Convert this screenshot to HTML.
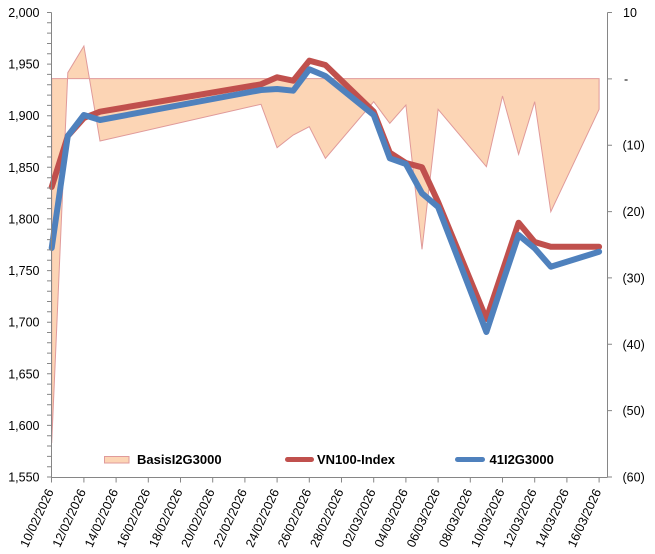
<!DOCTYPE html>
<html><head><meta charset="utf-8"><style>
html,body{margin:0;padding:0;background:#fff;}
svg{display:block;}
text{font-family:"Liberation Sans",Arial,sans-serif;fill:#000;}
.ax{font-size:12.5px;}
.lg{font-size:13px;font-weight:bold;}
</style></head><body>
<svg width="655" height="554" viewBox="0 0 655 554" xmlns="http://www.w3.org/2000/svg">
<rect x="0" y="0" width="655" height="554" fill="#fff"/>

<!-- Basis area -->
<polygon fill="#FCD5B5" stroke="#E09A9A" stroke-width="1" stroke-linejoin="miter"
points="51.7,78.6 51.7,443 67.8,72.7 83.9,46 100,141 261,104.3 277.1,147.7 293.2,135 309.3,126.7 325.4,158.3 373.7,101.7 389.8,123.3 405.9,105 422,249.3 438.1,109.3 486.4,166.7 502.5,96 518.6,154.3 534.7,101.7 550.8,211.7 599.1,109.3 599.1,78.6"/>

<!-- VN100-Index -->
<polyline fill="none" stroke="#C0504D" stroke-width="6" stroke-linejoin="round" stroke-linecap="round"
points="51.7,187 67.8,136 83.9,118 100,111.7 261,84.3 277.1,77.3 293.2,80.7 309.3,60.7 325.4,65 373.7,111.7 389.8,152.7 405.9,163 422,167.3 438.1,202 486.4,319 502.5,271 518.6,222.7 534.7,242 550.8,246.7 599.1,246.7"/>

<!-- 41I2G3000 -->
<polyline fill="none" stroke="#4F81BD" stroke-width="6" stroke-linejoin="round" stroke-linecap="round"
points="51.7,248 67.8,136 83.9,115 100,120 261,90 277.1,89 293.2,90.7 309.3,69.3 325.4,76 373.7,115 389.8,158.3 405.9,164 422,193.3 438.1,207 486.4,332 502.5,283 518.6,235 534.7,248.3 550.8,266.7 599.1,251.7"/>

<!-- axes -->
<g stroke="#868686" stroke-width="1" fill="none">
<line x1="51.5" y1="12.5" x2="51.5" y2="477.5"/>
<line x1="51.5" y1="477.5" x2="607.5" y2="477.5"/>
<line x1="607.5" y1="12.5" x2="607.5" y2="477.5"/>
<path id="lt" d="M47 12.5H51.5M47 22.8H51.5M47 33.1H51.5M47 43.5H51.5M47 53.8H51.5M47 64.1H51.5M47 74.4H51.5M47 84.8H51.5M47 95.1H51.5M47 105.4H51.5M47 115.7H51.5M47 126H51.5M47 136.4H51.5M47 146.7H51.5M47 157H51.5M47 167.3H51.5M47 177.7H51.5M47 188H51.5M47 198.3H51.5M47 208.6H51.5M47 218.9H51.5M47 229.3H51.5M47 239.6H51.5M47 249.9H51.5M47 260.2H51.5M47 270.6H51.5M47 280.9H51.5M47 291.2H51.5M47 301.5H51.5M47 311.8H51.5M47 322.2H51.5M47 332.5H51.5M47 342.8H51.5M47 353.1H51.5M47 363.5H51.5M47 373.8H51.5M47 384.1H51.5M47 394.4H51.5M47 404.7H51.5M47 415.1H51.5M47 425.4H51.5M47 435.7H51.5M47 446H51.5M47 456.4H51.5M47 466.7H51.5M47 477H51.5"/>
<path d="M607.5 12.5H612M607.5 78.9H612M607.5 145.2H612M607.5 211.6H612M607.5 277.9H612M607.5 344.3H612M607.5 410.6H612M607.5 477H612"/>
<path d="M51.5 477.5V482.5M83.9 477.5V482.5M116.1 477.5V482.5M148.3 477.5V482.5M180.5 477.5V482.5M212.7 477.5V482.5M244.9 477.5V482.5M277.1 477.5V482.5M309.3 477.5V482.5M341.5 477.5V482.5M373.7 477.5V482.5M405.9 477.5V482.5M438.1 477.5V482.5M470.3 477.5V482.5M502.5 477.5V482.5M534.7 477.5V482.5M566.9 477.5V482.5M599.1 477.5V482.5"/>
</g>

<!-- left axis labels -->
<g class="ax" text-anchor="end">
<text x="39.5" y="17">2,000</text>
<text x="39.5" y="68.6">1,950</text>
<text x="39.5" y="120.2">1,900</text>
<text x="39.5" y="171.8">1,850</text>
<text x="39.5" y="223.4">1,800</text>
<text x="39.5" y="275.1">1,750</text>
<text x="39.5" y="326.7">1,700</text>
<text x="39.5" y="378.3">1,650</text>
<text x="39.5" y="429.9">1,600</text>
<text x="39.5" y="481.5">1,550</text>
</g>

<!-- right axis labels -->
<g class="ax" text-anchor="start">
<text x="623" y="17">10</text>
<text x="624" y="83.4">-</text>
<text x="622.5" y="149.7">(10)</text>
<text x="622.5" y="216.1">(20)</text>
<text x="622.5" y="282.4">(30)</text>
<text x="622.5" y="348.8">(40)</text>
<text x="622.5" y="415.1">(50)</text>
<text x="622.5" y="481.5">(60)</text>
</g>

<!-- x axis labels -->
<g class="ax" text-anchor="end">
<text transform="translate(54,491.5) rotate(-65)">10/02/2026</text>
<text transform="translate(86.2,491.5) rotate(-65)">12/02/2026</text>
<text transform="translate(118.4,491.5) rotate(-65)">14/02/2026</text>
<text transform="translate(150.6,491.5) rotate(-65)">16/02/2026</text>
<text transform="translate(182.8,491.5) rotate(-65)">18/02/2026</text>
<text transform="translate(215,491.5) rotate(-65)">20/02/2026</text>
<text transform="translate(247.2,491.5) rotate(-65)">22/02/2026</text>
<text transform="translate(279.4,491.5) rotate(-65)">24/02/2026</text>
<text transform="translate(311.6,491.5) rotate(-65)">26/02/2026</text>
<text transform="translate(343.8,491.5) rotate(-65)">28/02/2026</text>
<text transform="translate(376,491.5) rotate(-65)">02/03/2026</text>
<text transform="translate(408.2,491.5) rotate(-65)">04/03/2026</text>
<text transform="translate(440.4,491.5) rotate(-65)">06/03/2026</text>
<text transform="translate(472.6,491.5) rotate(-65)">08/03/2026</text>
<text transform="translate(504.8,491.5) rotate(-65)">10/03/2026</text>
<text transform="translate(537,491.5) rotate(-65)">12/03/2026</text>
<text transform="translate(569.2,491.5) rotate(-65)">14/03/2026</text>
<text transform="translate(601.4,491.5) rotate(-65)">16/03/2026</text>
</g>

<!-- legend -->
<rect x="104.5" y="456.5" width="24.5" height="6.5" fill="#FCD5B5" stroke="#E09A9A" stroke-width="1"/>
<text class="lg" x="137" y="463.8">BasisI2G3000</text>
<line x1="287.5" y1="459.5" x2="311.5" y2="459.5" stroke="#C0504D" stroke-width="5" stroke-linecap="round"/>
<text class="lg" x="317" y="463.8">VN100-Index</text>
<line x1="457.5" y1="459.5" x2="482.5" y2="459.5" stroke="#4F81BD" stroke-width="5" stroke-linecap="round"/>
<text class="lg" x="489.5" y="463.8">41I2G3000</text>
</svg>
</body></html>
